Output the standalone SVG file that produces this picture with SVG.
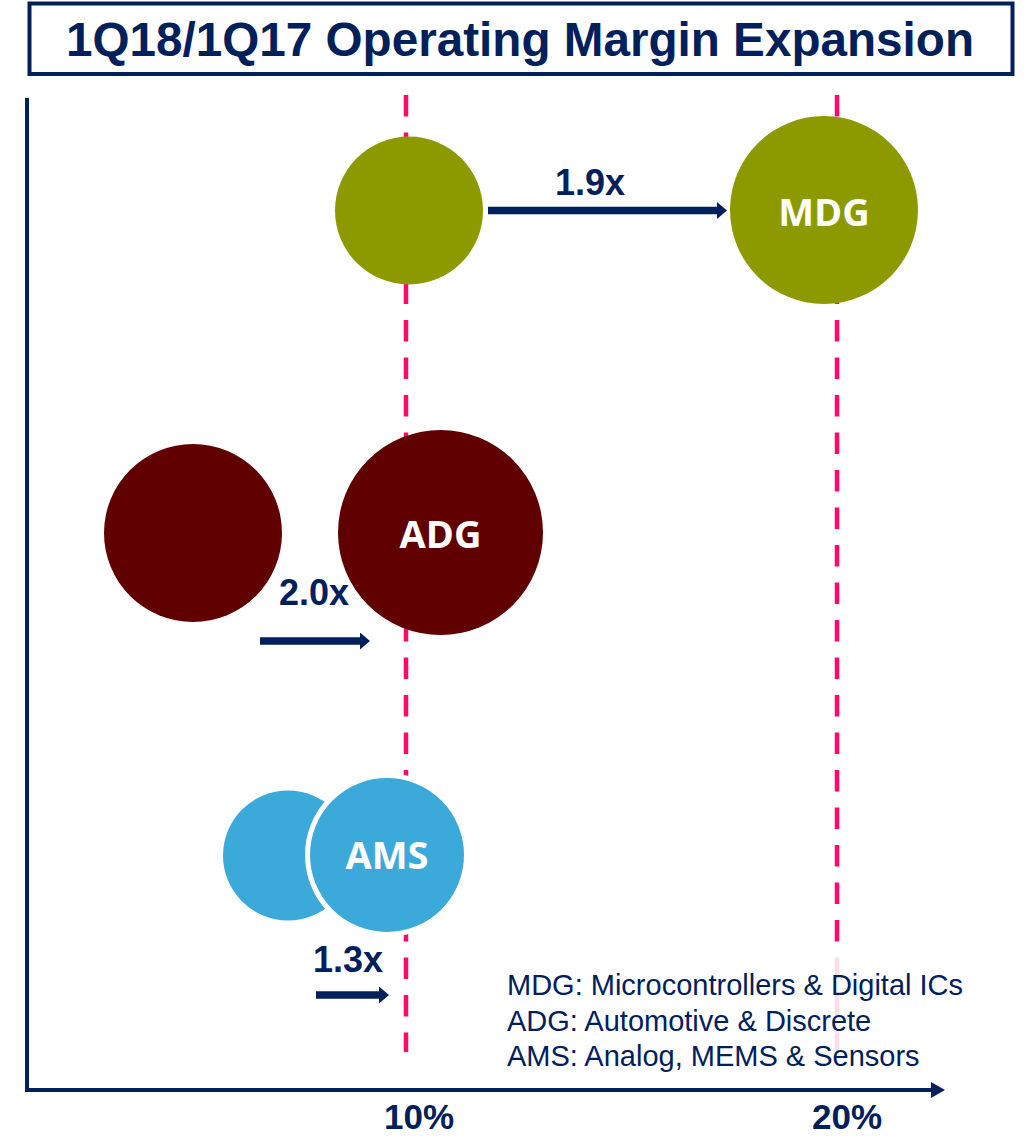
<svg xmlns="http://www.w3.org/2000/svg" width="1026" height="1136" viewBox="0 0 1026 1136">
  <defs>
    <style>
      .title { font-family: "Liberation Sans", Arial, sans-serif; font-weight: bold; font-size: 48px; fill: #00205B; }
      .mult { font-family: "Liberation Sans", Arial, sans-serif; font-weight: bold; font-size: 36px; fill: #00205B; }
      .axislbl { font-family: "Liberation Sans", Arial, sans-serif; font-weight: bold; font-size: 35px; fill: #00205B; text-anchor: middle; }
      .nodelbl { font-family: "Open Sans", "Noto Sans", sans-serif; font-weight: bold; font-size: 38px; fill: #FFFFFF; text-anchor: middle; }
      .legend { font-family: "Liberation Sans", Arial, sans-serif; font-size: 29px; fill: #00205B; }
      .dash { stroke: #FF0A6A; stroke-width: 4.5; stroke-dasharray: 21.5 16; fill: none; }
      .arrow { stroke: #00205B; stroke-width: 7.5; fill: none; marker-end: url(#head); }
      .mdg { fill: #8C9A00; }
      .adg { fill: #600000; }
      .ams { fill: #3CA9DB; }
    </style>
    <marker id="head" markerUnits="userSpaceOnUse" markerWidth="12" markerHeight="18" refX="0" refY="8.5" orient="auto">
      <path d="M0,0 L10,8.5 L0,17 Z" fill="#00205B"/>
    </marker>
    <marker id="axhead" markerUnits="userSpaceOnUse" markerWidth="18" markerHeight="18" refX="0" refY="8" orient="auto">
      <path d="M0,0 L14,8 L0,16 Z" fill="#00205B"/>
    </marker>
  </defs>

  <g id="title">
    <rect x="29.5" y="3.5" width="983" height="70.5" fill="#FFFFFF" stroke="#00205B" stroke-width="4"/>
    <text class="title" x="520" y="56" text-anchor="middle" textLength="908" lengthAdjust="spacingAndGlyphs">1Q18/1Q17 Operating Margin Expansion</text>
  </g>

  <g id="axes">
    <line x1="27" y1="98" x2="27" y2="1092" stroke="#00205B" stroke-width="4"/>
    <line x1="25" y1="1090" x2="931" y2="1090" stroke="#00205B" stroke-width="4" marker-end="url(#axhead)"/>
    <line class="dash" x1="406" y1="95" x2="406" y2="1052"/>
    <line class="dash" x1="837" y1="95" x2="837" y2="1052"/>
    <text class="axislbl" x="419" y="1129">10%</text>
    <text class="axislbl" x="847" y="1129">20%</text>
  </g>

  <g id="mdg-1q17">
    <circle class="mdg" cx="409" cy="210.5" r="74"/>
  </g>
  <g id="mdg-1q18">
    <circle class="mdg" cx="824" cy="210" r="94"/>
    <text class="nodelbl" x="824" y="226">MDG</text>
  </g>

  <g id="adg-1q17">
    <circle class="adg" cx="193" cy="533" r="89"/>
  </g>
  <g id="adg-1q18">
    <circle class="adg" cx="440.5" cy="532.5" r="102.5"/>
    <text class="nodelbl" x="440.5" y="548">ADG</text>
  </g>

  <g id="ams-1q17">
    <circle class="ams" cx="288" cy="855.5" r="65"/>
  </g>
  <g id="ams-1q18">
    <circle class="ams" cx="387" cy="855" r="79.5" stroke="#FFFFFF" stroke-width="5"/>
    <text class="nodelbl" x="387" y="869">AMS</text>
  </g>

  <g id="connectors">
    <line class="arrow" x1="488" y1="210.5" x2="717" y2="210.5"/>
    <text class="mult" x="555" y="195">1.9x</text>
    <line class="arrow" x1="260" y1="641" x2="360" y2="641"/>
    <text class="mult" x="279" y="605">2.0x</text>
    <line class="arrow" x1="316" y1="995" x2="379" y2="995"/>
    <text class="mult" x="313" y="972">1.3x</text>
  </g>

  <g id="legend">
    <rect x="500" y="956" width="478" height="120" fill="#FFFFFF" fill-opacity="0.86"/>
    <text class="legend" x="507" y="995">MDG: Microcontrollers &amp; Digital ICs</text>
    <text class="legend" x="507" y="1031">ADG: Automotive &amp; Discrete</text>
    <text class="legend" x="507" y="1066">AMS: Analog, MEMS &amp; Sensors</text>
  </g>
</svg>
